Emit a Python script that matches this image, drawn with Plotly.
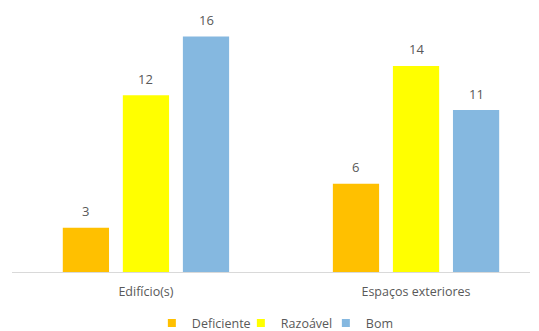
import plotly.graph_objects as go

categories = ["Edifício(s)", "Espaços exteriores"]
series_names = ["Deficiente", "Razoável", "Bom"]
deficiente = [3, 6]
razoavel = [12, 14]
bom = [16, 11]
colors = ["#FFC000", "#FFFF00", "#85B8E0"]
legend_widths = [44, 40, 30]

font_family = "Open Sans, Liberation Sans, sans-serif"
grey = "#595959"
bargap = 0.333

fig = go.Figure()
all_series = [deficiente, razoavel, bom]
n = len(all_series)
slot = (1 - bargap) / n
for i, (name, vals, col, lw) in enumerate(zip(series_names, all_series, colors, legend_widths)):
    fig.add_trace(go.Bar(
        x=categories, y=vals, name=name,
        marker=dict(color=col, line=dict(width=0)),
        showlegend=False, hoverinfo="skip",
    ))
    # legend entry with a small square swatch
    fig.add_trace(go.Scatter(
        x=[None], y=[None], mode="markers", name=name,
        marker=dict(symbol="square", size=8, color=col),
        showlegend=True, legendwidth=lw,
    ))
    # value labels above each bar
    for j, v in enumerate(vals):
        fig.add_annotation(
            x=j + (i - (n - 1) / 2) * slot, y=v, xref="x", yref="y",
            text=str(v), showarrow=False, yanchor="middle", yshift=16.5,
            font=dict(family=font_family, size=13, color=grey),
        )

fig.update_layout(
    width=539, height=331,
    margin=dict(l=12, r=9, t=7, b=59, autoexpand=False),
    paper_bgcolor="white", plot_bgcolor="white",
    barmode="group", bargap=bargap, bargroupgap=0.23,
    font=dict(family=font_family, size=12, color=grey),
    showlegend=True,
    legend=dict(orientation="h", x=0.27, xanchor="left", yref="container",
                y=0.023, yanchor="middle",
                font=dict(family=font_family, size=12.5, color=grey),
                itemwidth=30, tracegroupgap=0),
    xaxis=dict(range=[-0.496, 1.422], showline=True, linecolor="#D9D9D9", linewidth=1,
               ticks="", showgrid=False, tickfont=dict(size=12.5, color=grey),
               ticklabelstandoff=8),
    yaxis=dict(range=[0, 18], visible=False, showgrid=False, zeroline=False),
)

fig.write_html("out.html", post_script="document.body.style.margin='0';",
               config={"displayModeBar": False})
